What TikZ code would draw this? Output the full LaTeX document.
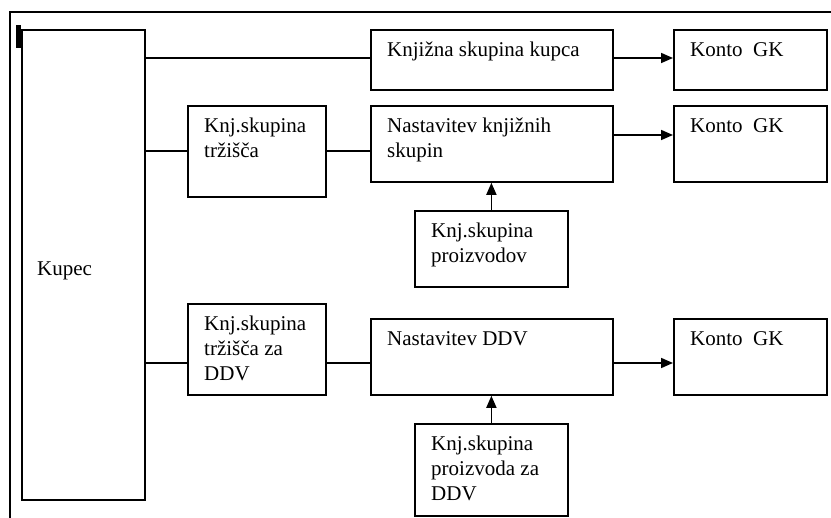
\documentclass[tikz,border=0pt]{standalone}
\usepackage{fontspec}
\setmainfont{Liberation Serif}
\usetikzlibrary{arrows.meta}
\begin{document}
\begin{tikzpicture}[x=1pt,y=-1pt,
		blok/.style={draw, line width=1.8pt, inner sep=0pt, anchor=north west},
		napis/.style={anchor=north west, inner sep=0pt, align=left, font=\fontsize{21}{25}\selectfont},
		vez/.style={line width=1.7pt},
		puscica/.style={line width=1.7pt, -{Triangle[length=12pt,width=10pt]}}]
		\useasboundingbox (0,0) rectangle (831,518);
		\draw[line width=2.8pt] (831,12) -- (10,12) -- (10,518);
		\fill (16,25) rectangle (21,48);
		% bloki
		\node[blok, minimum width=123pt, minimum height=470pt] (kupec) at (21,29) {};
		\node[blok, minimum width=242pt, minimum height=60pt] (kskupina) at (370,29) {};
		\node[blok, minimum width=153pt, minimum height=60pt] (konto1) at (673,29) {};
		\node[blok, minimum width=138pt, minimum height=91pt] (trzisce) at (187,105) {};
		\node[blok, minimum width=242pt, minimum height=76pt] (nastknj) at (370,105) {};
		\node[blok, minimum width=153pt, minimum height=76pt] (konto2) at (673,105) {};
		\node[blok, minimum width=153pt, minimum height=76pt] (proizvodi) at (414,210) {};
		\node[blok, minimum width=138pt, minimum height=91pt] (trzddv) at (187,303) {};
		\node[blok, minimum width=242pt, minimum height=76pt] (nastddv) at (370,318) {};
		\node[blok, minimum width=153pt, minimum height=76pt] (konto3) at (673,318) {};
		\node[blok, minimum width=153pt, minimum height=92pt] (proizddv) at (414,423) {};
		% napisi
		\node[napis] (kupecT) at (37,262) {Kupec};
		\node[napis] (kskupinaT) at ([shift={(17pt,-13pt)}]kskupina.north west) {Knjižna skupina kupca};
		\node[napis] (konto1T) at ([shift={(17pt,-13pt)}]konto1.north west) {Konto~ GK};
		\node[napis] (trzisceT) at ([shift={(17pt,-13pt)}]trzisce.north west) {Knj.skupina\\tržišča};
		\node[napis] (nastknjT) at ([shift={(17pt,-13pt)}]nastknj.north west) {Nastavitev knjižnih\\skupin};
		\node[napis] (konto2T) at ([shift={(17pt,-13pt)}]konto2.north west) {Konto~ GK};
		\node[napis] (proizvodiT) at ([shift={(17pt,-13pt)}]proizvodi.north west) {Knj.skupina\\proizvodov};
		\node[napis] (trzddvT) at ([shift={(17pt,-13pt)}]trzddv.north west) {Knj.skupina\\tržišča za\\DDV};
		\node[napis] (nastddvT) at ([shift={(17pt,-13pt)}]nastddv.north west) {Nastavitev DDV};
		\node[napis] (konto3T) at ([shift={(17pt,-13pt)}]konto3.north west) {Konto~ GK};
		\node[napis] (proizddvT) at ([shift={(17pt,-13pt)}]proizddv.north west) {Knj.skupina\\proizvoda za\\DDV};
		% povezave
		\coordinate (v1) at (0,58);
		\coordinate (v2) at (0,151);
		\coordinate (v2b) at (0,135);
		\coordinate (v3) at (0,363);
		\draw[vez] (kupec.east |- v1) -- (kskupina.west |- v1);
		\draw[puscica] (kskupina.east |- v1) -- (konto1.west |- v1);
		\draw[vez] (kupec.east |- v2) -- (trzisce.west |- v2);
		\draw[vez] (trzisce.east |- v2) -- (nastknj.west |- v2);
		\draw[puscica] (nastknj.east |- v2b) -- (konto2.west |- v2b);
		\draw[puscica] (proizvodi.north) -- (nastknj.south -| proizvodi.north);
		\draw[vez] (kupec.east |- v3) -- (trzddv.west |- v3);
		\draw[vez] (trzddv.east |- v3) -- (nastddv.west |- v3);
		\draw[puscica] (nastddv.east |- v3) -- (konto3.west |- v3);
		\draw[puscica] (proizddv.north) -- (nastddv.south -| proizddv.north);
	\end{tikzpicture}
\end{document}
